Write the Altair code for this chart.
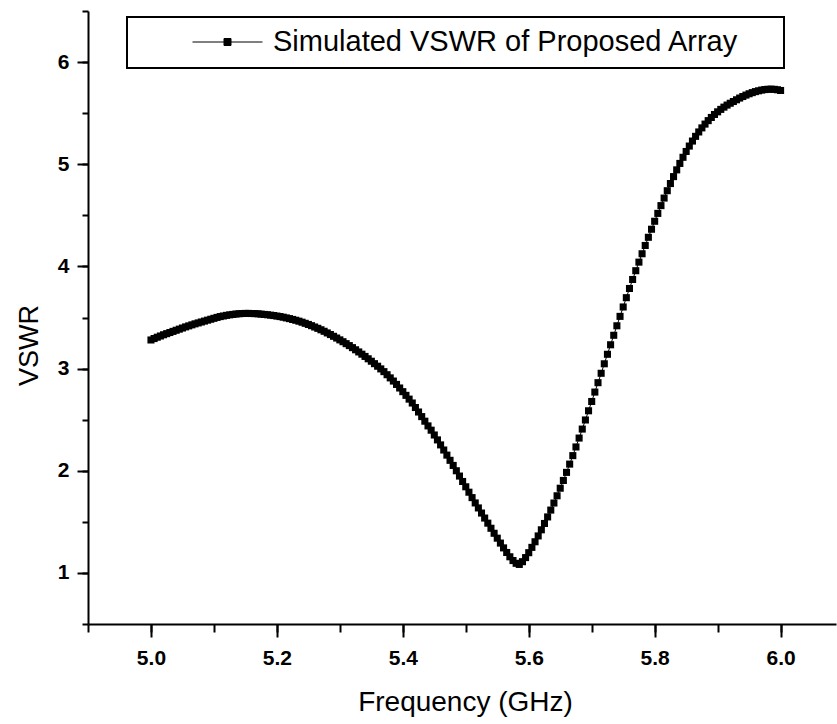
import altair as alt
import pandas as pd

# ---------------- data ----------------
series_name = "Simulated VSWR of Proposed Array"
freq_start = 5.0      # GHz, first sample of the sweep
freq_step = 0.005     # GHz, sweep step

vswr = [
    3.280, 3.294, 3.307, 3.319, 3.331, 3.342, 3.353, 3.364, 3.375, 3.386,
    3.397, 3.408, 3.418, 3.428, 3.438, 3.447, 3.456, 3.465, 3.474, 3.483,
    3.492, 3.501, 3.509, 3.515, 3.521, 3.526, 3.530, 3.534, 3.537, 3.539,
    3.540, 3.540, 3.539, 3.538, 3.536, 3.533, 3.530, 3.527, 3.523, 3.519,
    3.514, 3.509, 3.503, 3.496, 3.489, 3.481, 3.473, 3.464, 3.454, 3.443,
    3.432, 3.420, 3.407, 3.394, 3.380, 3.365, 3.349, 3.333, 3.316, 3.299,
    3.281, 3.263, 3.244, 3.225, 3.205, 3.184, 3.163, 3.141, 3.119, 3.096,
    3.072, 3.048, 3.023, 2.997, 2.970, 2.940, 2.909, 2.878, 2.845, 2.810,
    2.774, 2.738, 2.701, 2.663, 2.619, 2.575, 2.530, 2.485, 2.439, 2.397,
    2.350, 2.302, 2.253, 2.203, 2.153, 2.102, 2.052, 2.000, 1.948, 1.895,
    1.843, 1.790, 1.737, 1.685, 1.636, 1.586, 1.537, 1.487, 1.437, 1.388,
    1.340, 1.292, 1.245, 1.200, 1.158, 1.121, 1.094, 1.083, 1.110, 1.150,
    1.198, 1.250, 1.305, 1.362, 1.422, 1.484, 1.548, 1.615, 1.684, 1.755,
    1.829, 1.905, 1.984, 2.065, 2.148, 2.233, 2.320, 2.408, 2.497, 2.587,
    2.678, 2.770, 2.862, 2.954, 3.047, 3.140, 3.233, 3.326, 3.419, 3.511,
    3.603, 3.694, 3.784, 3.872, 3.958, 4.042, 4.124, 4.205, 4.285, 4.364,
    4.442, 4.519, 4.595, 4.669, 4.741, 4.811, 4.879, 4.945, 5.008, 5.068,
    5.125, 5.178, 5.227, 5.273, 5.316, 5.356, 5.393, 5.427, 5.458, 5.487,
    5.513, 5.537, 5.559, 5.579, 5.597, 5.614, 5.631, 5.648, 5.663, 5.677,
    5.690, 5.701, 5.711, 5.719, 5.726, 5.731, 5.734, 5.735, 5.733, 5.729,
    5.722,
]
freq = [round(freq_start + freq_step * i, 3) for i in range(len(vswr))]

x_major = [5.0, 5.2, 5.4, 5.6, 5.8, 6.0]
x_minor = [4.9, 5.0, 5.1, 5.2, 5.3, 5.4, 5.5, 5.6, 5.7, 5.8, 5.9, 6.0]
y_major = [1, 2, 3, 4, 5, 6]
y_minor = [0.5, 1.0, 1.5, 2.0, 2.5, 3.0, 3.5, 4.0, 4.5, 5.0, 5.5, 6.0, 6.5]
x_domain = [4.9, 6.088]
y_domain = [0.5, 6.5]

df = pd.DataFrame({"freq": freq, "vswr": vswr, "series": series_name})

FONT = "Liberation Sans"
xscale = alt.Scale(domain=x_domain, nice=False, zero=False)
yscale = alt.Scale(domain=y_domain, nice=False, zero=False)

# legend symbol: a line with a small square in the middle
sym_path = "M-1,0H1M-0.1,-0.1H0.1V0.1H-0.1Z"

common_axis = dict(
    grid=False, tickColor="black", tickWidth=2, domainColor="black",
    domainWidth=2, labelColor="black", titleColor="black",
)

minor = alt.Chart(df).mark_point(opacity=0).encode(
    x=alt.X("freq:Q", scale=xscale, axis=alt.Axis(
        values=x_minor, orient="bottom", labels=False, domain=False,
        tickSize=8, title="", **common_axis)),
    y=alt.Y("vswr:Q", scale=yscale, axis=alt.Axis(
        values=y_minor, orient="left", labels=False, domain=False,
        tickSize=6, title="", **common_axis)),
)

line = alt.Chart(df).mark_line(color="black", strokeWidth=1).encode(
    x=alt.X("freq:Q", scale=xscale, axis=alt.Axis(
        values=x_major, orient="bottom", format=".1f", tickSize=13,
        labelFont=FONT, labelFontSize=21, labelFontWeight="bold",
        labelPadding=10, labelFlush=False, labelOverlap=False,
        title="Frequency (GHz)", titleFont=FONT, titleFontSize=28,
        titleFontWeight="normal", titleX=377, titleY=86.7,
        titleBaseline="alphabetic", titleAlign="center", **common_axis)),
    y=alt.Y("vswr:Q", scale=yscale, axis=alt.Axis(
        values=y_major, orient="left", format="d", tickSize=11,
        labelFont=FONT, labelFontSize=21, labelFontWeight="bold",
        labelPadding=8, labelFlush=False, labelOverlap=False,
        title="VSWR", titleFont=FONT, titleFontSize=27,
        titleFontWeight="normal", titleX=-51, titleY=334, titleAngle=270,
        titleBaseline="alphabetic", titleAlign="center", **common_axis)),
)

points = alt.Chart(df).mark_square(size=50, opacity=1, filled=True).encode(
    x=alt.X("freq:Q", scale=xscale, axis=None),
    y=alt.Y("vswr:Q", scale=yscale, axis=None),
    color=alt.Color("series:N", scale=alt.Scale(range=["black"]), legend=alt.Legend(
        orient="none", legendX=39, legendY=6,
        title="xxxx", titleOrient="right", titleFont=FONT,
        titleFontSize=15, titlePadding=0, titleOpacity=0,
        symbolType=sym_path, symbolSize=4900, symbolStrokeWidth=1,
        symbolOffset=54,
        symbolStrokeColor="black", symbolFillColor="black", symbolOpacity=1,
        labelFont=FONT, labelFontSize=29, labelColor="black", labelOffset=10,
        labelLimit=700,
        padding=11, clipHeight=28, fillColor="white",
    )),
)

chart = (
    alt.layer(minor, line, points)
    .resolve_axis(x="independent", y="independent")
    .properties(
        width=748, height=613,
        autosize=alt.AutoSizeParams(type="none"),
        padding={"left": 88, "top": 11, "right": 1, "bottom": 100},
        background="white",
    )
    .configure_view(stroke=None)
    .configure_legend(strokeColor="black", strokeWidth=2)
)

chart.save("out.html", embed_options={"renderer": "svg", "actions": False})
